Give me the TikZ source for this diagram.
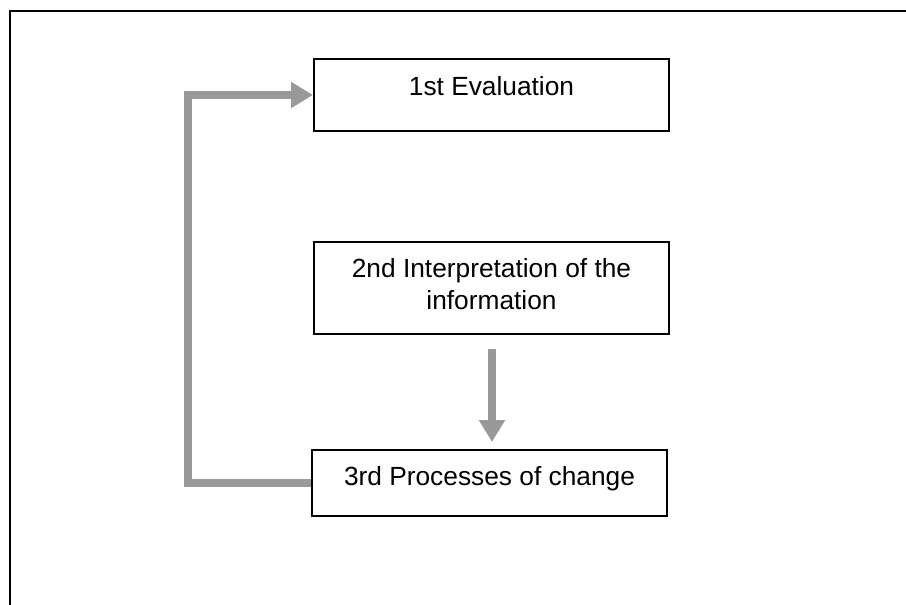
\documentclass[tikz,border=0pt]{standalone}
\usepackage{fontspec}
\setmainfont{Liberation Sans}
\usetikzlibrary{arrows.meta,calc}
\definecolor{arrowgray}{RGB}{153,153,153}
\begin{document}
\begin{tikzpicture}[x=1pt,y=-1pt,
  stagebox/.style={draw=black,line width=2pt,fill=white,inner sep=0pt,
    minimum width=355pt,font=\fontsize{26.3}{32}\selectfont},
  flowarrow/.style={draw=arrowgray,line width=8pt,line join=miter,
    -{Triangle[length=22pt,width=25pt]}}]
\useasboundingbox (0,0) rectangle (906,605);
% outer frame (only top and left edges visible)
\coordinate (fbl) at (10,606);
\coordinate (ftl) at (10,11);
\coordinate (ftr) at (907,11);
\draw[line width=2pt,line join=miter] (fbl) -- (ftl) -- (ftr);
% boxes
\node[stagebox,minimum height=72pt,text height=19pt,text depth=19pt] (b1) at (491.5,95) {1st Evaluation};
\node[stagebox,minimum height=92pt,align=center] (b2) at (491.5,288) {2nd Interpretation of the\\information\rule[-9pt]{0pt}{0pt}};
\node[stagebox,minimum height=66pt,text height=19pt,text depth=15pt] (b3) at (489.5,483) {3rd Processes of change};
% arrow from 2nd to 3rd
\coordinate (a1) at ($(b2.south)+(0.5,14)$);
\coordinate (a2) at ($(b3.north)+(2.5,-7)$);
\draw[flowarrow] (a1) -- (a2);
% feedback arrow
\coordinate (c1) at (188,483);
\coordinate (c2) at (188,95);
\draw[flowarrow] (b3.west) -- (c1) -- (c2) -- (b1.west);
\end{tikzpicture}
\end{document}
